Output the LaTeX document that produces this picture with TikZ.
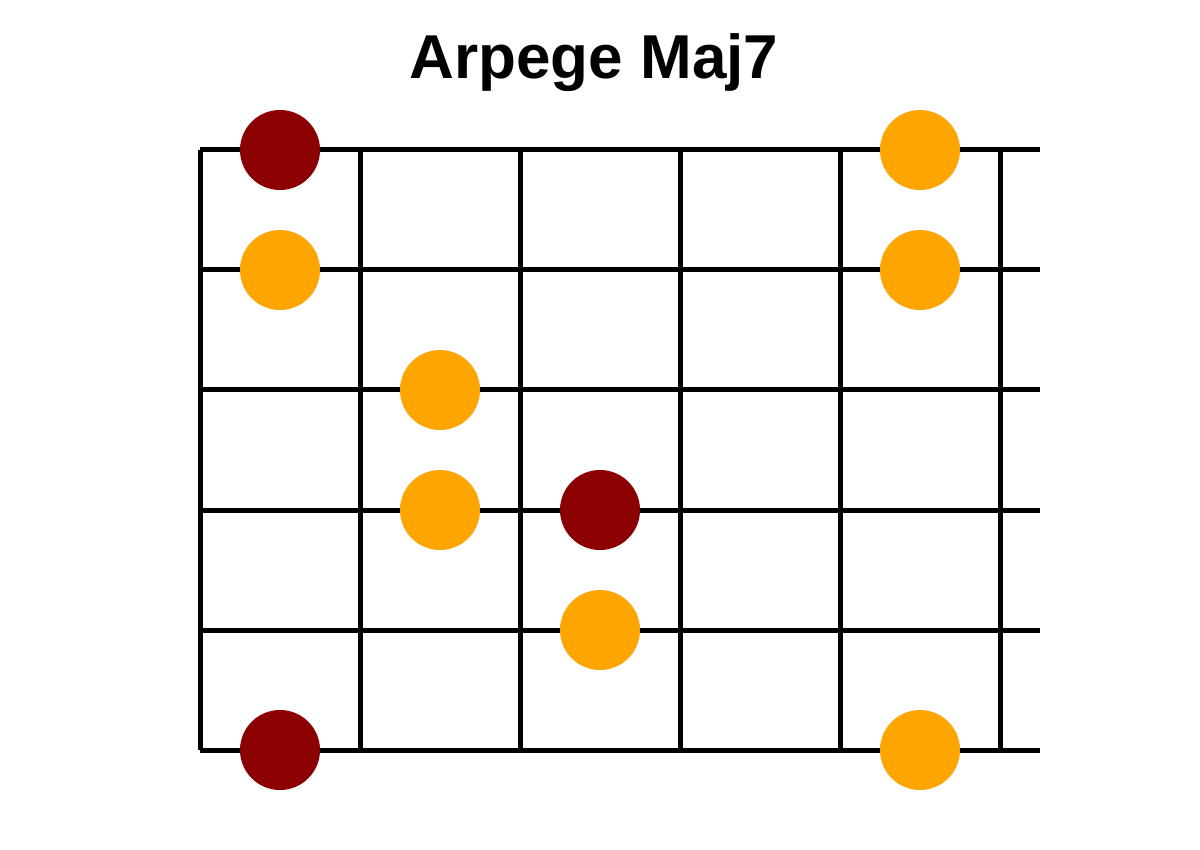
\documentclass[tikz,border=0pt]{standalone}
\usepackage{fontspec}
\setmainfont{Liberation Sans}
\definecolor{rootred}{HTML}{8B0000}
\definecolor{noteorange}{HTML}{FFA500}
\begin{document}
\begin{tikzpicture}
    [x=1pt, y=-1pt, line width=5pt,
     root/.style={circle, fill=rootred, minimum size=80pt, inner sep=0pt},
     note/.style={circle, fill=noteorange, minimum size=80pt, inner sep=0pt}]

    \useasboundingbox (0, 0) rectangle (1200, 850);

    \node [anchor=base, font=\bfseries\fontsize{62}{66}\selectfont]
      at (594, 79) (title) {Arpege Maj7};

    \draw (200, 150) -- (1040, 150);
    \draw (200, 270) -- (1040, 270);
    \draw (200, 390) -- (1040, 390);
    \draw (200, 510) -- (1040, 510);
    \draw (200, 630) -- (1040, 630);
    \draw (200, 750) -- (1040, 750);

    \draw (200, 150) -- (200, 750);
    \draw (360, 150) -- (360, 750);
    \draw (520, 150) -- (520, 750);
    \draw (680, 150) -- (680, 750);
    \draw (840, 150) -- (840, 750);
    \draw (1000, 150) -- (1000, 750);

    \node [root] at (280, 150) (d1a) {};
    \node [note] at (920, 150) (d1b) {};

    \node [note] at (280, 270) (d2a) {};
    \node [note] at (920, 270) (d2b) {};

    \node [note] at (440, 390) (d3a) {};

    \node [note] at (440, 510) (d4a) {};
    \node [root] at (600, 510) (d4b) {};

    \node [note] at (600, 630) (d5a) {};

    \node [root] at (280, 750) (d6a) {};
    \node [note] at (920, 750) (d6b) {};

  \end{tikzpicture}
\end{document}
